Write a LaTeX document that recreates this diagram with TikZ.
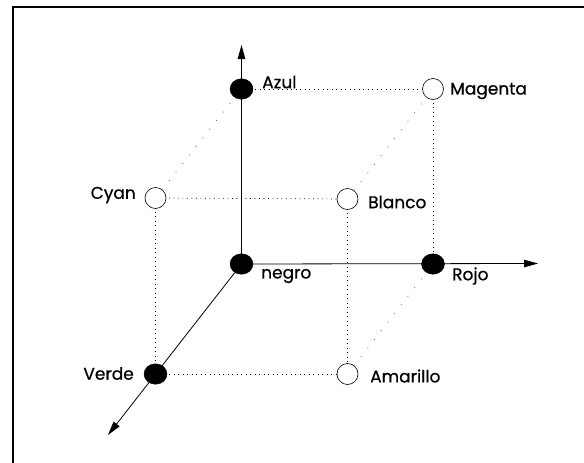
\documentclass[tikz,border=0pt]{standalone}
\usepackage{fontspec}
\setmainfont{Poppins}
\newfontfamily\lblfont{Poppins}[FakeBold=0.6]
\usetikzlibrary{arrows.meta,shapes.geometric}
\tikzset{
  full/.style={ellipse,fill=black,draw=black,minimum width=23pt,minimum height=20.5pt,inner sep=0pt},
  hollow/.style={circle,fill=white,draw=black,line width=0.6pt,minimum size=21pt,inner sep=0pt},
  lbl/.style={font=\lblfont\fontsize{17}{19}\selectfont,inner sep=0pt},
  axis/.style={line width=0.8pt,-{Triangle[length=14pt,width=7.5pt]}},
  edge/.style={line width=0.7pt,dash pattern=on 0.9pt off 3.6pt},
  faint/.style={line width=0.7pt,black!60,dash pattern=on 0.9pt off 10pt}
}
\begin{document}
\begin{tikzpicture}[x=1pt,y=-1pt]
\useasboundingbox (0,0) rectangle (584,463);
\draw[line width=2pt] (12.5,463) -- (12.5,6.5) -- (584,6.5);
% points
\coordinate (N) at (241.5,264);
\coordinate (R) at (433,264);
\coordinate (A) at (241.5,89);
\coordinate (M) at (433,89);
\coordinate (V) at (155.5,374);
\coordinate (Y) at (347.5,374);
\coordinate (C) at (155.5,198);
\coordinate (B) at (347.5,199);
\coordinate (tipz) at (241.5,45);
\coordinate (tipx) at (538,263.5);
\coordinate (tipy) at (108,435);
% dotted edges
\draw[edge] (A) -- (M);
\draw[edge] (C) -- (B);
\draw[edge] (V) -- (Y);
\draw[edge] (C) -- (V);
\draw[edge] (B) -- (Y);
\draw[edge] (M) -- (R);
\draw[faint] (C) -- (A);
\draw[faint] (B) -- (M);
\draw[faint] (Y) -- (R);
% axes
\draw[axis] (N) -- (tipz);
\draw[axis] (N) -- (tipx);
\draw[axis] (N) -- (tipy);
% nodes
\node[full] (negro) at (N) {};
\node[full] (azul) at (A) {};
\node[full] (rojo) at (R) {};
\node[full] (verde) at (V) {};
\node[hollow] (magenta) at (M) {};
\node[hollow] (cyan) at (C) {};
\node[hollow] (blanco) at (B) {};
\node[hollow] (amarillo) at (Y) {};
% labels
\node[lbl,anchor=west] (tazul) at (262,82) {Azul};
\node[lbl,anchor=west] (tmag) at (450,91) {Magenta};
\node[lbl,anchor=east] (tcyan) at (136,195) {Cyan};
\node[lbl,anchor=west] (tblan) at (368,202) {Blanco};
\node[lbl,anchor=west] (tneg) at (261,276) {negro};
\node[lbl,anchor=west] (troj) at (452,276) {Rojo};
\node[lbl,anchor=east] (tver) at (134,373.5) {Verde};
\node[lbl,anchor=west] (tama) at (370,376) {Amarillo};
\end{tikzpicture}
\end{document}
